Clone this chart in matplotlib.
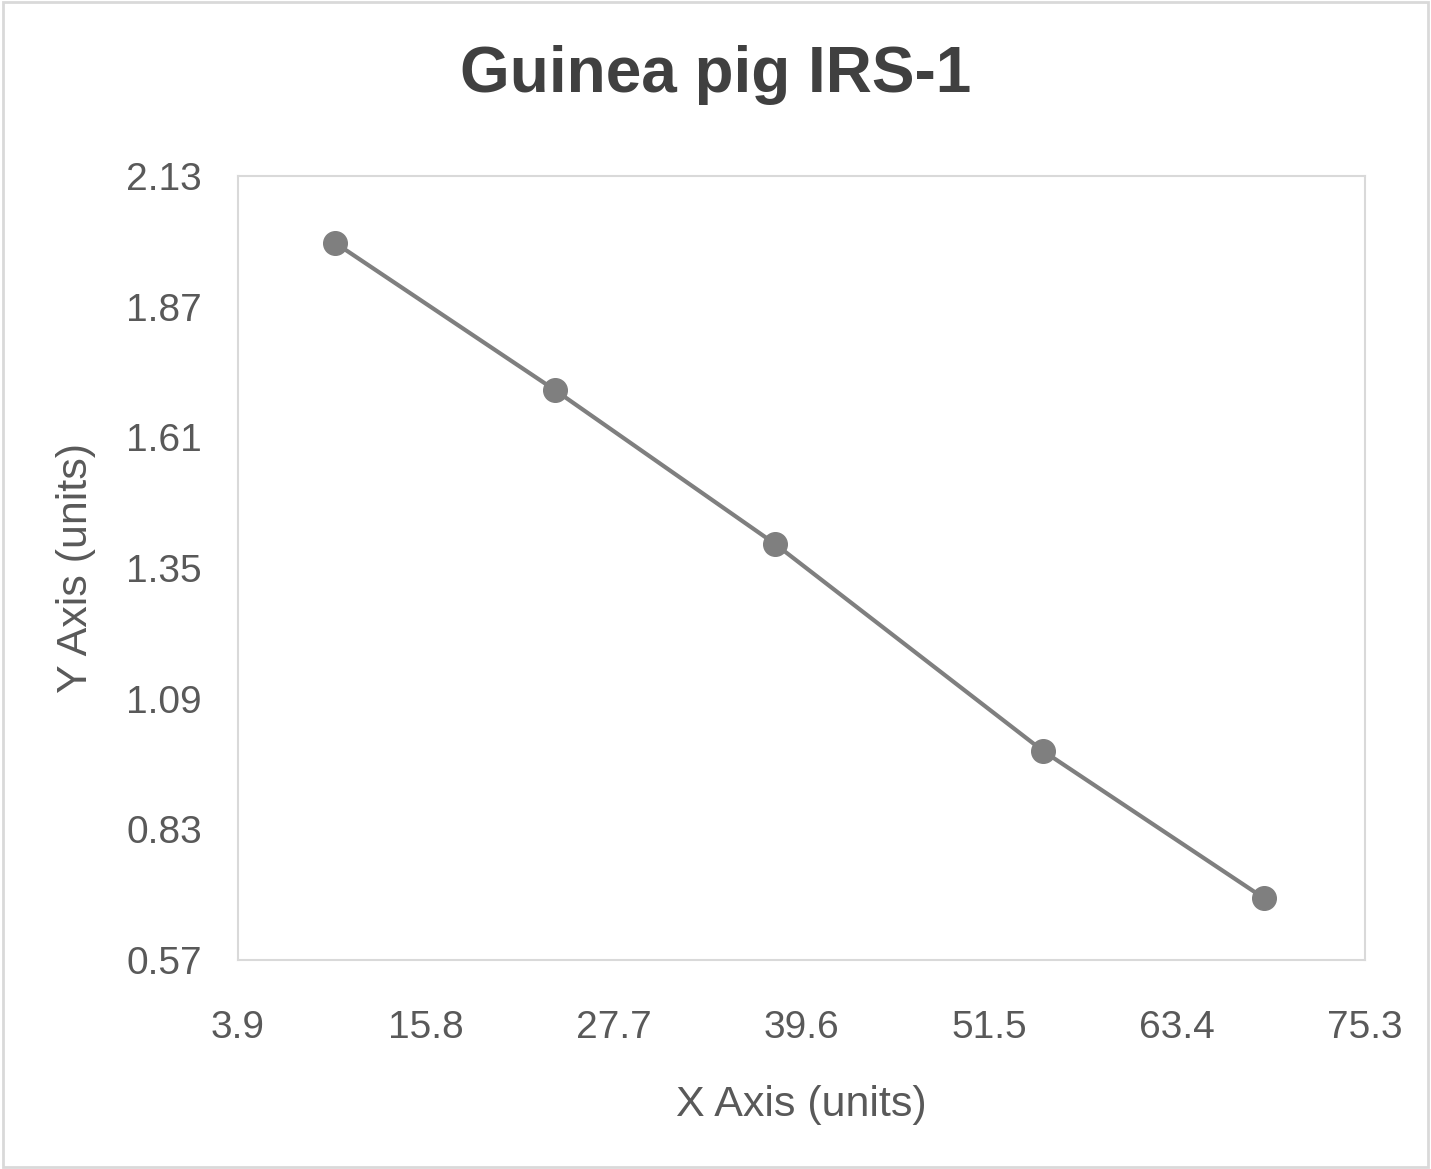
import matplotlib
matplotlib.use("Agg")
import matplotlib.pyplot as plt
import numpy as np

x_vals = [10.05, 23.98, 37.92, 54.9, 68.9]
y_vals = [1.997, 1.704, 1.398, 0.986, 0.693]
x_ticks = [3.9, 15.8, 27.7, 39.6, 51.5, 63.4, 75.3]
y_ticks = [0.57, 0.83, 1.09, 1.35, 1.61, 1.87, 2.13]

plt.rcParams['font.family'] = ['Liberation Sans', 'DejaVu Sans']
fig = plt.figure(figsize=(14.31, 11.69), dpi=100)
fig.patches.append(plt.Rectangle((0.002, 0.002), 0.996, 0.996, transform=fig.transFigure,
                                 fill=False, edgecolor='#d9d9d9', linewidth=2))
ax = fig.add_axes([238/1431, 1-960/1169, (1365-238)/1431, (960-176)/1169])
ax.plot(x_vals, y_vals, color='#7f7f7f', linewidth=3, marker='o', markersize=17,
        markerfacecolor='#7f7f7f', markeredgecolor='#7f7f7f')
ax.set_xlim(3.9, 75.3)
ax.set_ylim(0.57, 2.13)
ax.set_xticks(x_ticks)
ax.set_yticks(y_ticks)
ax.set_xticklabels([f"{v:.1f}" for v in x_ticks])
ax.set_yticklabels([f"{v:.2f}" for v in y_ticks])
ax.tick_params(length=0, labelsize=28, colors='#595959')
ax.tick_params(axis='x', pad=36)
ax.tick_params(axis='y', pad=26)
for s in ax.spines.values():
    s.set_color('#d9d9d9')
    s.set_linewidth(1.5)
ax.set_xlabel('X Axis (units)', fontsize=31, color='#595959', labelpad=28)
ax.set_ylabel('Y Axis (units)', fontsize=31, color='#595959', labelpad=22)
fig.text(0.5, 1-75/1169, 'Guinea pig IRS-1', ha='center', va='center',
         fontsize=46, fontweight='bold', color='#404040')
fig.savefig('out.png', dpi=100)
